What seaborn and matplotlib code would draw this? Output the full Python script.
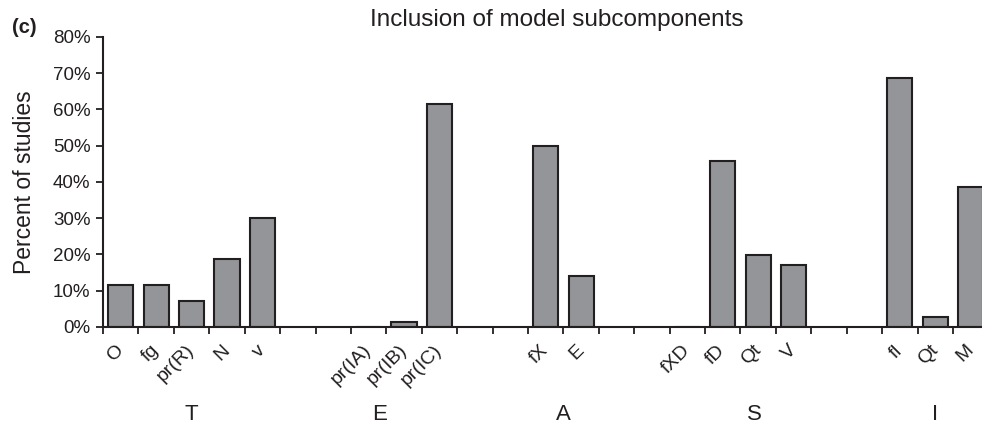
import numpy as np
import pandas as pd
import seaborn as sns
import matplotlib.pyplot as plt
from matplotlib.ticker import FuncFormatter
from matplotlib.transforms import blended_transform_factory

# groups of model components and the subcomponents in each
groups = ["T", "E", "A", "S", "I"]
subcomponents = [
    ["O", "fg", "pr(R)", "N", "v"],
    ["pr(IA)", "pr(IB)", "pr(IC)"],
    ["fX", "E"],
    ["fXD", "fD", "Qt", "V"],
    ["fI", "Qt", "M"],
]
# percent of studies including each subcomponent
percent_studies = [
    [11.5, 11.5, 7.3, 18.8, 30.2],
    [0.0, 1.5, 61.5],
    [50.0, 14.2],
    [0.0, 45.8, 19.8, 17.2],
    [68.7, 2.7, 38.6],
]

INK = "#231f20"
BAR = "#939598"

# building the slots, two empty slots between groups
rows = []
order = []
tick_labels = []
group_centers = []
for g, (grp, subs, vals) in enumerate(zip(groups, subcomponents, percent_studies)):
    if g > 0:
        for k in range(2):
            order.append(f"gap{g}_{k}")
            tick_labels.append("")
    start = len(order)
    for s, v in zip(subs, vals):
        key = f"{grp}:{s}"
        order.append(key)
        tick_labels.append(s)
        rows.append({"slot": key, "group": grp, "pct": v})
    group_centers.append((start + len(order) - 1) / 2)
df = pd.DataFrame(rows)

sns.set_style("ticks")
plt.rcParams["font.family"] = ["Liberation Sans", "DejaVu Sans"]
plt.rcParams["text.color"] = INK
plt.rcParams["axes.labelcolor"] = INK
plt.rcParams["xtick.color"] = INK
plt.rcParams["ytick.color"] = INK

fig = plt.figure(figsize=(9.82, 4.29), dpi=100)
# axes runs a bit past the right edge like the original panel
ax = fig.add_axes([0.1049, 0.2378, 0.9016, 0.676])

sns.barplot(data=df, x="slot", y="pct", order=order, color=BAR, saturation=1,
            width=0.71, edgecolor=INK, linewidth=1.5, errorbar=None, ax=ax)

ax.set_ylim(0, 80)
ax.set_yticks(range(0, 81, 10))
ax.yaxis.set_major_formatter(FuncFormatter(lambda v, p: f"{v:.0f}%"))
ax.tick_params(axis="y", length=5, width=1.3, labelsize=13.5, pad=4)

ax.set_xticks(range(len(order)))
ax.set_xticklabels(tick_labels)
plt.setp(ax.get_xticklabels(), rotation=45, ha="right", va="center",
         rotation_mode="anchor")
ax.set_xticks(np.arange(-0.5, len(order)), minor=True)
ax.tick_params(axis="x", which="major", length=0, labelsize=14, pad=15)
ax.tick_params(axis="x", which="minor", length=5, width=1.3)
ax.set_xlim(-0.5, len(order) - 0.5)

sns.despine(ax=ax)
for side in ["left", "bottom"]:
    ax.spines[side].set_linewidth(1.5)
    ax.spines[side].set_color(INK)

ax.set_xlabel("")
ax.set_ylabel("Percent of studies", fontsize=16.5, labelpad=12.5)
ax.set_title("Inclusion of model subcomponents", fontsize=17.5, pad=8, x=0.513)

# group names under the subcomponent labels
nudge = [0, -0.7, 0, 0.4, 0]
trans = blended_transform_factory(ax.transData, ax.transAxes)
for grp, cx, dx in zip(groups, group_centers, nudge):
    ax.text(cx + dx, -0.303, grp, transform=trans, ha="center", va="center", fontsize=16)

fig.text(0.012, 0.935, "(c)", fontsize=14.5, fontweight="bold", va="center")

fig.savefig("out.png", dpi=100)
